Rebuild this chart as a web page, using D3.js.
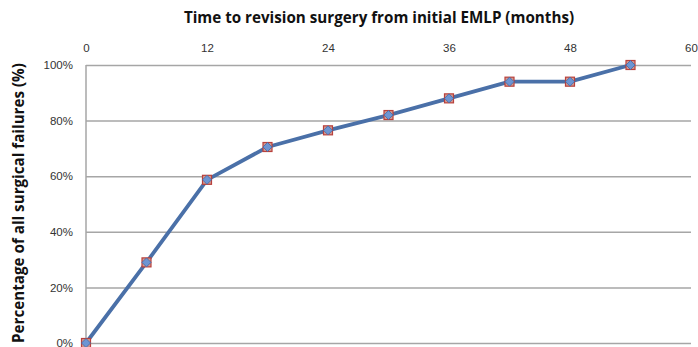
<!DOCTYPE html>
<html>
<head>
<meta charset="utf-8">
<script src="https://cdn.jsdelivr.net/npm/d3@7"></script>
<style>
  body { margin: 0; background: #fff; }
  svg { display: block; font-family: "Open Sans", "Liberation Sans", sans-serif; }
</style>
</head>
<body>
<div id="chart"></div>
<script>
let height = 347,
    width = 698,
    margin = ({ top: 65, right: 7, bottom: 4, left: 86 });

// data
const months = [0, 6, 12, 18, 24, 30, 36, 42, 48, 54];
const failures = [0, 0.29, 0.587, 0.705, 0.765, 0.82, 0.88, 0.94, 0.94, 1.0];
const xTicks = [0, 12, 24, 36, 48, 60];
const yTicks = [0, 0.2, 0.4, 0.6, 0.8, 1.0];

const data = months.map((m, i) => ({ m: m, v: failures[i] }));

const svg = d3.select("#chart")
    .append("svg")
    .attr("width", width)
    .attr("height", height);

let x = d3.scaleLinear()
    .domain([0, 60])
    .range([margin.left, width - margin.right]);

let y = d3.scaleLinear()
    .domain([0, 1])
    .range([height - margin.bottom, margin.top]);

// horizontal gridlines
svg.append("g")
    .attr("transform", `translate(${margin.left},0)`)
    .call(d3.axisLeft(y).tickValues(yTicks).tickFormat(d3.format(".0%"))
        .tickSize(-(width - margin.left - margin.right)).tickPadding(13))
    .call(g => g.select(".domain").remove())
    .call(g => g.selectAll("line").attr("stroke", "#a6a6a6").attr("stroke-width", 1.5))
    .call(g => g.selectAll("text").attr("font-size", 11.5).attr("fill", "#333"));

// left axis line
svg.append("line")
    .attr("x1", margin.left).attr("x2", margin.left)
    .attr("y1", y(1)).attr("y2", y(0))
    .attr("stroke", "#a6a6a6").attr("stroke-width", 1.5);

// top axis labels
svg.append("g")
    .attr("transform", `translate(0,${margin.top})`)
    .call(d3.axisTop(x).tickValues(xTicks).tickSize(0).tickPadding(13))
    .call(g => g.select(".domain").remove())
    .call(g => g.selectAll("text").attr("font-size", 11.5).attr("fill", "#333"));

// title
svg.append("text")
    .attr("x", 379).attr("y", 23)
    .attr("text-anchor", "middle")
    .attr("font-size", 15.2).attr("font-weight", "bold").attr("fill", "#111")
    .text("Time to revision surgery from initial EMLP (months)");

// y label
svg.append("text")
    .attr("transform", "translate(24,203) rotate(-90)")
    .attr("text-anchor", "middle")
    .attr("font-size", 15.2).attr("font-weight", "bold").attr("fill", "#111")
    .text("Percentage of all surgical failures (%)");

// line
svg.append("path")
    .datum(data)
    .attr("fill", "none")
    .attr("stroke", "#4a70a8")
    .attr("stroke-width", 3.8)
    .attr("stroke-linejoin", "round")
    .attr("d", d3.line().x(d => x(d.m)).y(d => y(d.v)));

// markers: red square with blue diamond
const pts = svg.append("g").selectAll("g")
    .data(data)
    .join("g")
    .attr("transform", d => `translate(${x(d.m)},${y(d.v)})`);

pts.append("rect")
    .attr("x", -4.5).attr("y", -4.5)
    .attr("width", 9).attr("height", 9)
    .attr("fill", "#d49a8f")
    .attr("stroke", "#b8403c")
    .attr("stroke-width", 1.2);

pts.append("path")
    .attr("d", "M0,-4.5L4.5,0L0,4.5L-4.5,0Z")
    .attr("fill", "#6d95d3")
    .attr("stroke", "#3f68a8")
    .attr("stroke-width", 0.8);
</script>
</body>
</html>
